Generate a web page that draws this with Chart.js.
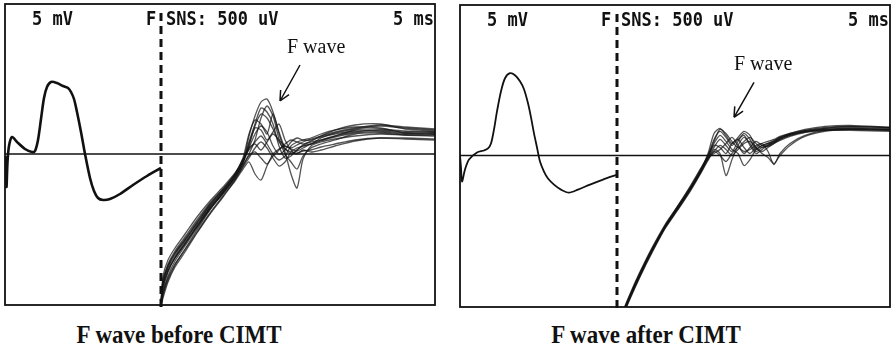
<!DOCTYPE html>
<html>
<head>
<meta charset="utf-8">
<script src="https://cdn.jsdelivr.net/npm/chart.js@4.4.1/dist/chart.umd.min.js"></script>
<style>
  body { margin: 0; background: #fff; width: 894px; height: 352px; overflow: hidden; position: relative; }
  canvas { position: absolute; top: 0; }
  .caption { position: absolute; top: 324px; width: 300px; text-align: center;
             font: bold 23px 'Liberation Serif', 'Times New Roman', serif; line-height: 23px; color: #111;
             transform: scaleY(1.12); transform-origin: 50% 80%; }
</style>
</head>
<body>
<canvas id="chartAntes" width="440" height="312" style="left:0"></canvas>
<canvas id="chartDepois" width="440" height="312" style="left:455px"></canvas>
<div class="caption" style="left:29px">F wave before CIMT</div>
<div class="caption" style="left:496px">F wave after CIMT</div>
<script>
// Traçados de onda F (antes / depois do CIMT)
// eixo x: 0..430 (tela), eixo y: -151..150, linha de base em 0

// --- Painel esquerdo: onda M
const leftMx = [0, 1, 1.5, 2.5, 4, 7, 12, 20, 27, 30, 33, 36, 39, 42, 46, 52, 58, 63, 66, 69, 72, 76, 80, 85, 89, 93, 98, 105, 115, 128, 142, 156];
const leftMy = [-2, -6, -33, -8, 8, 17, 12, 5, 2, 3, 14, 35, 56, 67, 72, 71, 68, 66, 62, 55, 42, 22, 0, -24, -37, -44, -46, -45, -40, -31, -22, -14];

// --- Painel esquerdo: respostas F (vários traçados sobrepostos)
const leftFx = [156, 158, 163, 170, 180, 192, 205, 218, 230, 238, 244, 250, 256, 262, 268, 274, 280, 286, 292, 298, 306, 316, 330, 350, 375, 400, 430];
const leftF1 = [-152, -132, -116, -103, -89, -72, -54, -38, -22, -8, 18, 38, 52, 55, 42, 20, 2, -20, -34, -5, 8, 12, 15, 18, 20, 19, 19];
const leftF2 = [-150, -126, -110, -97, -83, -66, -49, -35, -20, -4, 20, 34, 30, 20, 40, 22, 6, 0, 4, 9, 12, 14, 17, 21, 22, 20, 20];
const leftF3 = [-151, -138, -124, -110, -96, -78, -59, -42, -27, -15, -8, -20, -26, -12, 0, 5, 8, 5, 3, 6, 10, 14, 18, 22, 24, 22, 22];
const leftF4 = [-148, -122, -106, -94, -80, -63, -47, -33, -19, -6, 6, 10, 4, 12, 20, 14, 8, 6, 9, 12, 15, 18, 22, 26, 29, 27, 25];
const leftF5 = [-152, -144, -128, -113, -98, -79, -60, -43, -26, -12, 0, 14, 36, 48, 38, 15, 0, -8, -15, -2, 6, 10, 14, 20, 21, 19, 18];
const leftF6 = [-150, -130, -114, -101, -87, -70, -52, -37, -21, -7, 8, 28, 40, 36, 25, 12, 5, 2, 1, 3, 4, 7, 10, 14, 16, 15, 14];
const leftF7 = [-151, -141, -126, -111, -95, -76, -56, -39, -24, -11, -2, 2, -4, -10, -2, 4, 10, 14, 12, 10, 13, 18, 24, 29, 30, 25, 23];
const leftF8 = [-149, -127, -112, -99, -85, -68, -50, -35, -20, -5, 4, 12, 18, 10, 0, -6, -2, 8, 12, 14, 16, 20, 24, 27, 26, 21, 20];
const leftF9 = [-152, -136, -118, -104, -90, -72, -53, -38, -23, -9, 10, 26, 24, 14, 22, 30, 14, 4, 0, 4, 2, 4, 8, 13, 16, 16, 15];
const leftF10 = [-151, -133, -117, -104, -90, -73, -55, -40, -25, -13, -4, 6, 12, 6, -4, -12, -8, 2, 6, 8, 10, 16, 21, 25, 28, 26, 24];
const leftF11 = [-150, -129, -112, -99, -86, -69, -51, -36, -21, -7, 12, 30, 46, 42, 30, 8, -4, -2, 4, 8, 10, 13, 18, 24, 25, 23, 22];
const leftF12 = [-152, -140, -122, -107, -92, -74, -55, -39, -23, -9, 6, 20, 28, 22, 8, 0, 4, 12, 16, 14, 14, 17, 20, 23, 23, 21, 21];

// --- Painel direito: onda M
const rightMx = [0, 1, 2, 5, 9, 17, 24, 28, 31, 34, 37, 41, 45, 50, 55, 60, 64, 68, 71, 74, 77, 80, 84, 88, 94, 101, 109, 118, 130, 143, 157];
const rightMy = [0, -12, -26, -14, -4, 3, 5, 7, 12, 26, 44, 64, 77, 82, 80, 74, 66, 52, 38, 22, 8, -6, -16, -23, -29, -34, -37, -34, -29, -24, -19];

// --- Painel direito: respostas F
const rightFx = [157, 163, 170, 180, 192, 205, 218, 230, 240, 248, 254, 260, 266, 272, 278, 284, 290, 296, 302, 308, 314, 320, 330, 345, 365, 390, 430];
const rightF1 = [-176, -158, -141, -119, -95, -72, -53, -34, -16, 2, 22, 27, 20, 12, 18, 24, 20, 8, 4, 8, 12, 15, 19, 23, 27, 29, 28];
const rightF2 = [-174, -156, -139, -117, -93, -70, -50, -32, -15, -2, 8, 16, 10, 4, 14, 22, 16, 6, 10, 12, 14, 17, 20, 24, 26, 27, 26];
const rightF3 = [-178, -160, -143, -121, -97, -73, -54, -36, -19, -5, 4, 0, -6, 2, 8, 4, 6, 10, 12, 4, -9, 2, 12, 20, 25, 27, 26];
const rightF4 = [-175, -157, -140, -118, -94, -71, -52, -33, -17, -1, 12, 20, 14, 6, 2, -10, -4, 6, 10, 12, 15, 18, 22, 26, 29, 30, 28];
const rightF5 = [-177, -159, -142, -120, -96, -72, -53, -35, -18, -4, 6, 2, -20, -4, 10, 18, 12, 4, 8, 11, 14, 18, 21, 24, 25, 25, 24];
const rightF6 = [-173, -155, -138, -116, -92, -69, -50, -31, -14, 0, 16, 24, 18, 10, 16, 20, 10, 2, 6, 10, 13, 17, 21, 24, 26, 26, 25];
const rightF7 = [-176, -158, -141, -119, -95, -71, -52, -34, -17, -3, 4, 10, 6, 0, 6, 12, 14, 8, 2, -2, -8, 0, 10, 19, 24, 26, 26];
const rightF8 = [-174, -157, -140, -118, -94, -71, -51, -33, -16, -1, 10, 8, 2, 12, 16, 8, 2, 8, 12, 14, 16, 19, 22, 25, 27, 28, 27];
const rightF9 = [-175, -158, -140, -118, -94, -70, -51, -33, -16, 0, 14, 26, 22, 14, 8, 14, 18, 12, 8, 10, 13, 16, 20, 23, 25, 26, 25];
const rightF10 = [-177, -159, -141, -119, -95, -72, -52, -34, -18, -3, 2, 6, 12, 18, 10, 2, 8, 14, 10, 9, 12, 16, 21, 25, 28, 29, 28];

// marcador de estímulo (linha tracejada) e seta "F wave"
const leftStimX = [156, 156];
const rightStimX = [157, 157];
const stimY = [141, -158];
const baseX = [0, 430];
const baseY = [0, 0];
const leftArrowX = [295, 275];
const leftArrowY = [89, 53];
const rightArrowX = [294, 274];
const rightArrowY = [73, 38];

// textos do equipamento
const topLeftText = '5 mV';
const topMidF = 'F';
const topMidText = 'SNS: 500 uV';
const topRightText = '5 ms';
const arrowLabel = 'F wave';

function pts(xs, ys) {
    return xs.map((x, i) => ({ x: x, y: ys[i] }));
}

function traceDs(xs, ys) {
    return {
        data: pts(xs, ys),
        borderColor: 'rgba(20, 20, 20, 0.72)',
        borderWidth: 1.3,
        pointRadius: 0,
        tension: 0.25
    };
}

// desenha moldura, textos e seta
const moldura = {
    id: 'moldura',
    afterDatasetsDraw(chart, args, opts) {
        const { ctx, chartArea: a, scales } = chart;
        ctx.save();
        ctx.strokeStyle = '#111';
        ctx.lineWidth = 1.8;
        ctx.strokeRect(a.left, a.top, a.right - a.left, a.bottom - a.top);

        // textos do topo
        ctx.fillStyle = '#111';
        ctx.font = 'bold 17px "DejaVu Sans Mono", monospace';
        ctx.textBaseline = 'alphabetic';
        const drawTall = (txt, x, align) => {
            ctx.save();
            ctx.translate(x, a.top + 21);
            ctx.scale(1, 1.15);
            ctx.textAlign = align;
            ctx.fillText(txt, 0, 0);
            ctx.restore();
        };
        drawTall(topLeftText, a.left + 27, 'left');
        drawTall(topMidF, a.left + 141, 'left');
        drawTall(topMidText, a.left + 161, 'left');
        drawTall(topRightText, a.right - 1, 'right');

        // seta
        const xs = opts.arrowX.map(v => scales.x.getPixelForValue(v));
        const ys = opts.arrowY.map(v => scales.y.getPixelForValue(v));
        ctx.lineWidth = 1.5;
        ctx.beginPath();
        ctx.moveTo(xs[0], ys[0]);
        ctx.lineTo(xs[1], ys[1]);
        const ang = Math.atan2(ys[1] - ys[0], xs[1] - xs[0]);
        const len = 11;
        ctx.moveTo(xs[1], ys[1]);
        ctx.lineTo(xs[1] - len * Math.cos(ang - 0.45), ys[1] - len * Math.sin(ang - 0.45));
        ctx.moveTo(xs[1], ys[1]);
        ctx.lineTo(xs[1] - len * Math.cos(ang + 0.45), ys[1] - len * Math.sin(ang + 0.45));
        ctx.stroke();

        ctx.font = '20px "Liberation Serif", "Times New Roman", serif';
        ctx.textAlign = 'left';
        ctx.fillText(arrowLabel, a.left + opts.labelDx, a.top + opts.labelDy);
        ctx.restore();
    }
};

function renderPainel(id, mx, my, fx, fTraces, stimX, arrowX, arrowY, padding, labelDx, labelDy) {
    const ctx = document.getElementById(id).getContext('2d');
    const datasets = fTraces.map(t => traceDs(fx, t));
    datasets.push({
        data: pts(mx, my),
        borderColor: '#111',
        borderWidth: id === 'chartAntes' ? 2.6 : 1.8,
        pointRadius: 0,
        tension: 0.3
    });
    datasets.push({
        data: pts(baseX, baseY),
        borderColor: '#111',
        borderWidth: 1.6,
        pointRadius: 0
    });
    datasets.push({
        data: pts(stimX, stimY),
        borderColor: '#111',
        borderWidth: 3,
        borderDash: [8, 5],
        pointRadius: 0,
        clip: { left: 0, top: 0, right: 0, bottom: 6 }
    });

    return new Chart(ctx, {
        type: 'line',
        data: { datasets: datasets },
        options: {
            responsive: false,
            animation: false,
            devicePixelRatio: 1,
            layout: { padding: padding },
            plugins: {
                legend: { display: false },
                tooltip: { enabled: false },
                moldura: { arrowX: arrowX, arrowY: arrowY, labelDx: labelDx, labelDy: labelDy }
            },
            scales: {
                x: { type: 'linear', min: 0, max: 430, display: false },
                y: { type: 'linear', min: -151, max: 150, display: false }
            }
        },
        plugins: [moldura]
    });
}

renderPainel('chartAntes', leftMx, leftMy, leftFx,
    [leftF1, leftF2, leftF3, leftF4, leftF5, leftF6, leftF7, leftF8, leftF9, leftF10, leftF11, leftF12],
    leftStimX, leftArrowX, leftArrowY, { left: 5, top: 4, right: 5, bottom: 7 }, 282, 49);

renderPainel('chartDepois', rightMx, rightMy, rightFx,
    [rightF1, rightF2, rightF3, rightF4, rightF5, rightF6, rightF7, rightF8, rightF9, rightF10],
    rightStimX, rightArrowX, rightArrowY, { left: 5, top: 5, right: 5, bottom: 5 }, 274, 65);
</script>
</body>
</html>
